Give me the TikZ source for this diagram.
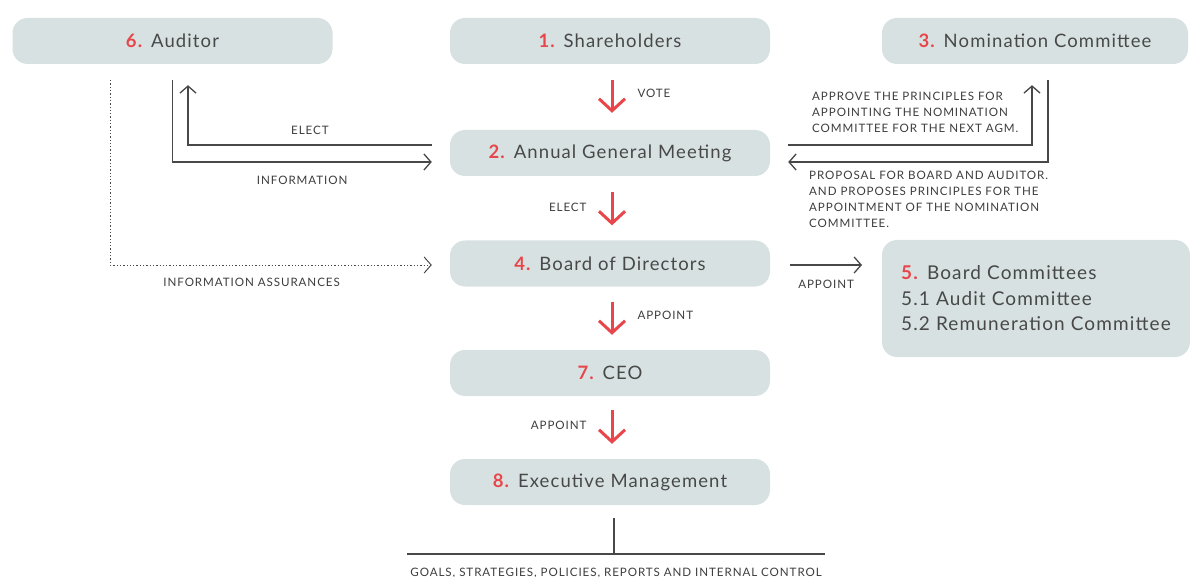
\documentclass[tikz,border=0pt]{standalone}
\usepackage{fontspec}
\setmainfont{Lato}[LetterSpace=6]
\newfontfamily\capsfont[LetterSpace=8]{Lato}
\usetikzlibrary{arrows.meta}

\definecolor{boxgrey}{RGB}{216,225,225}
\definecolor{ink}{RGB}{72,72,72}
\definecolor{accent}{RGB}{232,70,75}
\def\num#1{\textcolor{accent}{\textbf{#1}}}

\tikzset{
    box/.style={fill=boxgrey, rounded corners=15pt, minimum width=320pt, minimum height=46pt,
        text=ink, font=\fontsize{18.5}{25.5}\selectfont},
    lbl/.style={text=ink!85!black, inner sep=0pt, font=\capsfont\fontsize{11.6}{16}\selectfont},
    vote/.style={draw=accent, line width=3pt, -{Straight Barb[length=12pt,width=26pt]}},
    conn/.style={draw=ink, line width=1.3pt, -{Straight Barb[length=7pt,width=16pt]}},
}

\begin{document}
\begin{tikzpicture}[x=1pt, y=-1pt]
    \useasboundingbox (0,0) rectangle (1190,577);

    % boxes
    \node[box] (aud) at (172.5,41) {\num{6.} Auditor};
    \node[box] (sh) at (610,41) {\num{1.} Shareholders};
    \node[box, minimum width=306pt] (nom) at (1035,41) {\num{3.} Nomination Committee};
    \node[box] (agm) at (610,153) {\num{2.} Annual General Meeting};
    \node[box] (board) at (610,263.5) {\num{4.} Board of Directors};
    \node[box, minimum width=308pt, minimum height=117pt, align=left, font=\fontsize{19}{25.5}\selectfont] (com) at (1036,298.5)
        {\num{5.} Board Committees\\5.1 Audit Committee\\5.2 Remuneration Committee};
    \node[box] (ceo) at (610,373) {\num{7.} CEO};
    \node[box] (exec) at (610,482) {\num{8.} Executive Management};

    % red arrows down the middle
    \draw[vote] ([xshift=2pt,yshift=-16pt]sh.south) -- ([xshift=2pt,yshift=17pt]agm.north)
        node[lbl, pos=.4, right=24pt] (voteLbl) {VOTE};
    \draw[vote] ([xshift=2pt,yshift=-16pt]agm.south) -- ([xshift=2pt,yshift=15pt]board.north)
        node[lbl, pos=.45, left=24pt] (electLbl) {ELECT};
    \draw[vote] ([xshift=2pt,yshift=-15pt]board.south) -- ([xshift=2pt,yshift=15pt]ceo.north)
        node[lbl, pos=.4, right=24pt] (apptLbl) {APPOINT};
    \draw[vote] ([xshift=2pt,yshift=-14pt]ceo.south) -- ([xshift=2pt,yshift=15pt]exec.north)
        node[lbl, pos=.45, left=24pt] (apptLblB) {APPOINT};

    % auditor side
    \draw[conn] ([xshift=-18pt,yshift=8pt]agm.west) -| ([xshift=15.5pt,yshift=-21pt]aud.south)
        node[lbl, pos=.25, above=10pt] (audElect) {ELECT};
    \draw[conn] ([yshift=-16pt]aud.south) |- ([xshift=-18pt,yshift=-9pt]agm.west)
        node[lbl, pos=.75, below=13pt] (audInfo) {INFORMATION};
    \draw[conn, dotted, line width=1pt] ([xshift=-62.5pt,yshift=-16pt]aud.south) |- ([xshift=-18pt,yshift=-1.5pt]board.west)
        node[lbl, pos=.72, below=13pt] (audAssur) {INFORMATION ASSURANCES};

    % nomination committee side
    \draw[conn] ([xshift=18pt,yshift=8pt]agm.east) -| ([xshift=-3pt,yshift=-21pt]nom.south);
    \node[lbl, align=left, anchor=north west] (apprLbl) at (812,92)
        {APPROVE THE PRINCIPLES FOR\\APPOINTING THE NOMINATION\\COMMITTEE FOR THE NEXT AGM.};
    \draw[conn] ([xshift=13pt,yshift=-16pt]nom.south) |- ([xshift=18pt,yshift=-9pt]agm.east);
    \node[lbl, align=left, anchor=north west] (propLbl) at (809,171)
        {PROPOSAL FOR BOARD AND AUDITOR.\\AND PROPOSES PRINCIPLES FOR THE\\APPOINTMENT OF THE NOMINATION\\COMMITTEE.};

    % board to committees
    \coordinate (comIn) at (862,265);
    \draw[conn] ([xshift=20pt,yshift=-1.5pt]board.east) -- (comIn)
        node[lbl, midway, below=14pt] (comAppt) {APPOINT};

    % goals line under executive management
    \coordinate (goalsL) at (407,554);
    \coordinate (goalsR) at (825,554);
    \coordinate (tee) at (614,554);
    \draw[ink, line width=1.3pt] ([xshift=4pt,yshift=-13pt]exec.south) -- (tee);
    \draw[ink, line width=1.3pt] (goalsL) -- (goalsR)
        node[lbl, pos=.5, below=13pt] (goalsLbl) {GOALS, STRATEGIES, POLICIES, REPORTS AND INTERNAL CONTROL};
\end{tikzpicture}
\end{document}
